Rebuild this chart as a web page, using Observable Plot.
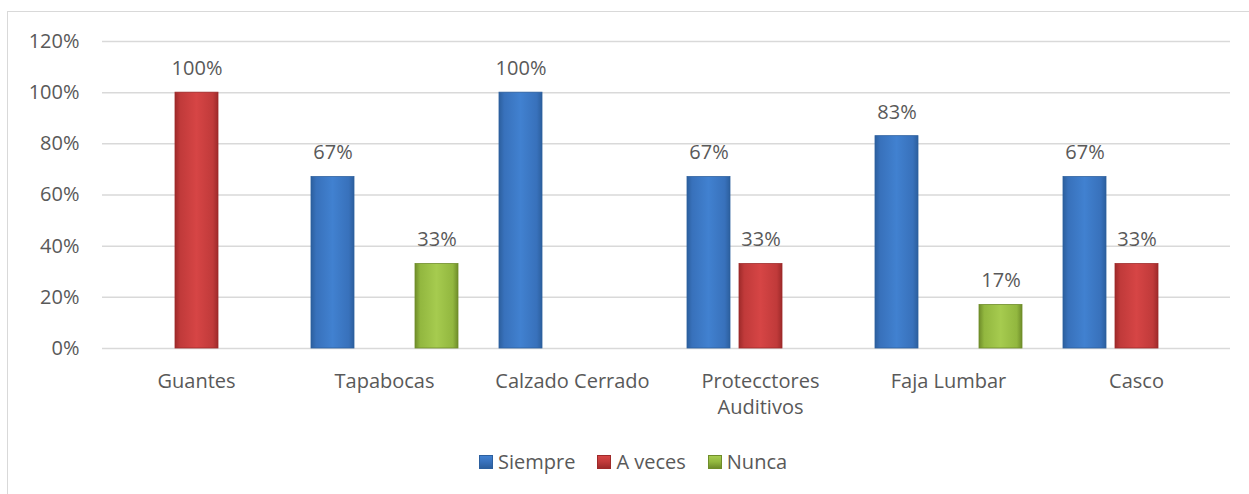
<!DOCTYPE html>
<html>
<head>
<meta charset="utf-8">
<script src="https://cdn.jsdelivr.net/npm/d3@7"></script>
<script src="https://cdn.jsdelivr.net/npm/@observablehq/plot@0.6"></script>
<style>
  html, body { margin: 0; padding: 0; background: #fff; }
  body { width: 1249px; height: 494px; position: relative; overflow: hidden; font-family: "Open Sans", sans-serif; }
  #frame { position: absolute; left: 7px; top: 11px; width: 1300px; height: 600px; border-left: 1.5px solid #d9d9d9; border-top: 1.5px solid #d9d9d9; }
  #chart { position: absolute; left: 0; top: 0; }
  #legend { position: absolute; left: 479px; top: 448px; display: flex; align-items: center; font-size: 20px; color: #595959; }
  #legend .item { display: flex; align-items: center; margin-right: 22px; }
  #legend .sw { width: 14px; height: 14px; margin-right: 5px; box-sizing: border-box; }
</style>
</head>
<body>
<div id="frame"></div>
<div id="chart"></div>
<div id="legend"></div>
<script>
const categories = ["Guantes", "Tapabocas", "Calzado Cerrado", "Protecctores Auditivos", "Faja Lumbar", "Casco"];
const categoryLabels = ["Guantes", "Tapabocas", "Calzado Cerrado", "Protecctores\nAuditivos", "Faja Lumbar", "Casco"];
const series = ["Siempre", "A veces", "Nunca"];
const siempre = [0, 0.67, 1.00, 0.67, 0.83, 0.67];
const aVeces  = [1.00, 0, 0, 0.33, 0, 0.33];
const nunca   = [0, 0.33, 0, 0, 0.17, 0];
const yTicks = [0, 0.2, 0.4, 0.6, 0.8, 1.0, 1.2];

const seriesValues = [siempre, aVeces, nunca];
const gradIds = ["gBlue", "gRed", "gGreen"];
const swatch = [
  {dark: "#2c5f9e", mid: "#3871bb", light: "#4181d0"},
  {dark: "#9e2a2a", mid: "#c03a3a", light: "#d64545"},
  {dark: "#6f8d2a", mid: "#92b73f", light: "#a6cb4f"}
];

const rows = [];
categories.forEach((c, i) => {
  series.forEach((s, j) => {
    const v = seriesValues[j][i];
    if (v > 0) rows.push({category: c, series: s, value: v, si: j});
  });
});

const text = "#595959";
const marks = [
  Plot.gridY(yTicks, {stroke: "#d9d9d9", strokeOpacity: 1, strokeWidth: 1.5}),
  Plot.axisY(yTicks, {tickSize: 0, tickPadding: 23, tickFormat: d => Math.round(d * 100) + "%", label: null, fill: text}),
  Plot.axisFx({anchor: "bottom", tickSize: 0, tickPadding: 21, lineHeight: 1.3, label: null, fill: text,
               tickFormat: c => categoryLabels[categories.indexOf(c)]})
];
series.forEach((s, j) => {
  marks.push(Plot.barY(rows.filter(d => d.series === s), {
    fx: "category", x: "series", y: "value",
    fill: `url(#${gradIds[j]})`, stroke: swatch[j].dark, strokeWidth: 0.8
  }));
});
marks.push(Plot.text(rows, {
  fx: "category", x: "series", y: "value",
  text: d => Math.round(d.value * 100) + "%",
  lineAnchor: "middle", dy: -24, fill: text, fontSize: 20
}));

const svg = Plot.plot({
  width: 1249,
  height: 440,
  marginLeft: 100,
  marginRight: 18,
  marginTop: 41,
  marginBottom: 92,
  style: {fontFamily: "Open Sans, sans-serif", fontSize: "20px", color: text, background: "transparent"},
  fx: {domain: categories, padding: 0, label: null},
  x: {domain: series, axis: null, paddingInner: 0.18, paddingOuter: 0.386},
  y: {domain: [0, 1.2], label: null},
  marks
});

// gradient definitions for the bevel-like bars
const defs = d3.select(svg).insert("defs", ":first-child");
gradIds.forEach((id, j) => {
  const g = defs.append("linearGradient").attr("id", id).attr("x1", "0").attr("x2", "1").attr("y1", "0").attr("y2", "0");
  const c = swatch[j];
  [[0, c.dark], [0.12, c.mid], [0.5, c.light], [0.88, c.mid], [1, c.dark]].forEach(([o, col]) =>
    g.append("stop").attr("offset", o).attr("stop-color", col));
});

document.getElementById("chart").appendChild(svg);

const legend = document.getElementById("legend");
series.forEach((s, j) => {
  const item = document.createElement("div");
  item.className = "item";
  const sw = document.createElement("div");
  sw.className = "sw";
  sw.style.background = `linear-gradient(to bottom, ${swatch[j].light}, ${swatch[j].mid} 50%, ${swatch[j].dark})`;
  sw.style.border = `1px solid ${swatch[j].dark}`;
  const label = document.createElement("span");
  label.textContent = s;
  item.appendChild(sw);
  item.appendChild(label);
  legend.appendChild(item);
});
</script>
</body>
</html>
